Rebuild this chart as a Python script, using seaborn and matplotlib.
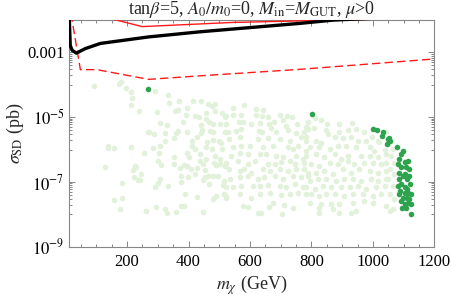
import numpy as np
import pandas as pd
import matplotlib
matplotlib.use("Agg")
import matplotlib.pyplot as plt
import seaborn as sns
from matplotlib.ticker import FixedLocator, NullFormatter, FixedFormatter

# ---------------- data ----------------
# light green points: m_chi (GeV), log10 sigma_SD (pb)
light_x = [92,174,181,197,212,216,213,239,268,138,138,157,214,254,128,225,230,219,245,222,235,243,184,184,159,176,262,
           292,334,335,368,416,442,462,477,487,296,357,366,395,392,421,434,456,486,510,518,308,329,382,442,458,466,478,503,523,
           271,287,324,359,366,394,440,445,471,481,520,322,353,411,428,459,479,499,507,284,306,411,420,458,475,510,
           303,395,402,438,458,486,503,299,353,311,352,385,395,427,436,447,453,482,490,501,518,371,409,374,398,420,452,463,479,495,
           306,300,377,447,517,292,332,468,512,523,390,428,479,490,517,523,293,322,331,360,376,384,447,262,
           582,546,618,642,523,546,571,620,640,658,696,721,737,523,564,577,604,631,661,677,707,718,753,783,
           528,555,571,628,640,669,685,723,750,775,533,568,626,658,696,729,766,783,544,571,601,642,674,723,739,756,783,
           539,566,593,631,653,683,707,750,772,523,561,593,615,658,680,701,729,745,777,533,566,582,604,642,664,696,723,750,777,
           536,566,593,626,647,680,707,739,766,788,544,571,609,631,658,696,718,745,772,523,566,604,631,664,701,729,756,783,
           577,593,661,674,712,739,626,636,705,
           788,813,832,850,889,931,789,807,848,891,918,945,972,1016,783,815,832,853,875,902,929,951,978,997,1021,
           794,826,859,886,913,945,989,1005,1038,783,815,842,875,897,918,962,989,1016,1043,799,826,859,886,918,940,972,1000,1027,1043,
           788,815,842,870,902,929,956,989,1016,1043,794,821,848,880,907,935,962,994,1016,1043,783,810,837,864,897,924,951,978,1010,1038,
           799,826,848,875,907,935,967,1000,1027,794,832,864,891,935,972,1000,826,870,891,945,929,826,
           1043,1048,1065,1059,1070,1054,1070,1048,1065,1054,1070,1043,1065,1054]
light_logsig = [-4.04,-3.97,-3.91,-4.09,-4.22,-4.41,-4.62,-4.82,-5.47,-5.88,-5.95,-5.96,-5.93,-6.09,-6.53,-6.52,-6.55,-6.63,-6.76,-6.86,-6.95,-6.95,-7.02,-7.49,-7.56,-7.83,-7.90,
           -4.19,-4.30,-4.56,-4.50,-4.51,-4.50,-4.58,-4.64,-4.58,-4.85,-4.81,-4.77,-4.71,-4.92,-4.95,-5.00,-4.86,-4.82,-4.87,-5.00,-5.18,-5.23,-5.14,-5.23,-5.05,-5.15,-5.21,-5.21,-5.21,
           -5.47,-5.51,-5.50,-5.50,-5.42,-5.47,-5.49,-5.39,-5.44,-5.47,-5.47,-5.73,-5.65,-5.74,-5.62,-5.76,-5.69,-5.73,-5.81,-5.95,-5.88,-5.88,-5.98,-5.91,-5.98,-5.98,
           -6.11,-6.11,-6.23,-6.15,-6.30,-6.19,-6.30,-6.35,-6.24,-6.48,-6.46,-6.47,-6.52,-6.57,-6.36,-6.46,-6.63,-6.40,-6.48,-6.45,-6.50,-6.58,-6.61,-6.81,-6.86,-6.76,-6.86,-6.83,-6.83,-6.81,
           -6.92,-7.02,-7.00,-6.95,-6.97,-7.17,-7.14,-7.05,-7.10,-7.17,-7.36,-7.47,-7.52,-7.43,-7.38,-7.49,-7.76,-7.85,-7.95,-7.93,-7.75,-7.74,-7.92,-7.90,
           -4.62,-4.72,-4.76,-4.77,-4.95,-4.93,-4.93,-4.93,-4.97,-5.00,-4.93,-4.95,-5.00,-5.21,-5.14,-5.16,-5.21,-5.19,-5.21,-5.14,-5.10,-5.26,-5.21,-5.29,
           -5.47,-5.42,-5.36,-5.42,-5.47,-5.34,-5.47,-5.39,-5.49,-5.47,-5.67,-5.62,-5.67,-5.64,-5.67,-5.73,-5.62,-5.73,-5.93,-5.88,-5.88,-5.93,-5.88,-5.93,-5.98,-5.88,-6.04,
           -6.19,-6.09,-6.14,-6.14,-6.14,-6.19,-6.24,-6.19,-6.30,-6.40,-6.35,-6.45,-6.35,-6.45,-6.45,-6.38,-6.35,-6.45,-6.40,-6.61,-6.66,-6.61,-6.71,-6.61,-6.66,-6.61,-6.66,-6.61,-6.61,
           -6.90,-6.86,-6.81,-6.92,-6.86,-6.81,-6.90,-6.81,-6.86,-6.81,-7.17,-7.12,-7.14,-7.12,-7.10,-7.12,-7.17,-7.07,-7.17,-7.43,-7.38,-7.49,-7.38,-7.35,-7.41,-7.38,-7.33,-7.38,
           -7.74,-7.76,-7.76,-7.64,-7.72,-7.80,-7.97,-7.95,-8.00,
           -5.14,-5.03,-5.10,-5.21,-5.21,-5.18,-5.36,-5.34,-5.38,-5.47,-5.41,-5.36,-5.47,-5.73,-5.62,-5.73,-5.81,-5.52,-5.62,-5.65,-5.62,-5.73,-5.73,-5.62,-5.78,
           -5.93,-5.93,-5.98,-5.88,-5.88,-5.93,-5.93,-6.04,-6.00,-6.19,-6.14,-6.24,-6.14,-6.30,-6.19,-6.19,-6.19,-6.24,-6.14,-6.45,-6.50,-6.40,-6.45,-6.35,-6.45,-6.40,-6.40,-6.45,-6.40,
           -6.71,-6.71,-6.66,-6.76,-6.61,-6.71,-6.61,-6.66,-6.71,-6.66,-6.97,-6.92,-6.92,-6.97,-6.92,-6.92,-6.97,-6.92,-6.97,-6.92,-7.17,-7.23,-7.12,-7.17,-7.17,-7.17,-7.12,-7.23,-7.17,-7.12,
           -7.38,-7.43,-7.38,-7.38,-7.43,-7.38,-7.38,-7.43,-7.38,-7.64,-7.69,-7.69,-7.69,-7.64,-7.59,-7.66,-7.80,-7.85,-7.95,-7.90,-7.95,-7.95,
           -5.47,-5.83,-5.98,-6.19,-6.40,-6.61,-6.76,-6.92,-7.12,-7.38,-7.54,-7.74,-7.85,-7.90]

# dark green points
dark_x = [268,802,1000,1013,1034,1030,1048,1045,
          1052,1056,1078,1097,1092,1086,1106,1115,1081,1092,1108,1119,1084,1097,1106,1117,1110,1086,1092,1121,
          1103,1110,1124,1089,1103,1113,1097,1110,1119,1092,1103,1113,1124,1095,1108,1124,1081,1084]
dark_logsig = [-4.12,-4.90,-5.36,-5.41,-5.47,-5.59,-5.67,-5.83,
               -5.65,-5.73,-5.93,-6.04,-6.14,-6.30,-6.38,-6.35,-6.45,-6.55,-6.55,-6.61,-6.71,-6.81,-6.76,-6.81,-6.90,-6.92,-7.07,-7.07,
               -7.17,-7.23,-7.38,-7.28,-7.33,-7.33,-7.49,-7.49,-7.54,-7.59,-7.69,-7.66,-7.69,-7.80,-7.80,-7.98,-7.12,-7.38]

# black limit curve
black_x = [11, 15, 21, 35, 64, 113, 269, 438, 763, 870, 980, 1200]
black_logsig = [-1.70, -2.78, -2.93, -3.02, -2.88, -2.72, -2.52, -2.36, -2.10, -2.00, -1.95, -1.90]

# red solid curve
red_x = [140, 146, 249, 546, 871, 1200]
red_logsig = [-1.85, -1.95, -2.20, -2.07, -2.00, -1.93]

# red dashed curve
redd_x = [16, 21, 48, 102, 270, 439, 763, 1186, 1200]
redd_logsig = [-1.80, -2.00, -3.53, -3.53, -3.83, -3.72, -3.52, -3.21, -3.20]

xticks = [200, 400, 600, 800, 1000, 1200]
ymajor = [-9, -7, -5, -3]
ytick_labels = [r"$10^{-9}$", r"$10^{-7}$", r"$10^{-5}$", "0.001"]

# ---------------- plotting ----------------
sns.set_style("ticks")
plt.rcParams["font.family"] = ["Liberation Serif", "DejaVu Serif"]
plt.rcParams["mathtext.fontset"] = "stix"

fig = plt.figure(figsize=(4.52, 2.96), dpi=100)
ax = fig.add_axes([0.152, 0.1666, 0.809, 0.7654])

light = pd.DataFrame({"m": light_x, "s": 10.0 ** np.array(light_logsig)})
dark = pd.DataFrame({"m": dark_x, "s": 10.0 ** np.array(dark_logsig)})
blk = pd.DataFrame({"m": black_x, "s": 10.0 ** np.array(black_logsig)})
red = pd.DataFrame({"m": red_x, "s": 10.0 ** np.array(red_logsig)})
redd = pd.DataFrame({"m": redd_x, "s": 10.0 ** np.array(redd_logsig)})

sns.scatterplot(data=light, x="m", y="s", ax=ax, color="#e2f2da", s=16, linewidth=0, zorder=2)
sns.scatterplot(data=dark, x="m", y="s", ax=ax, color="#2da34e", s=16, linewidth=0, zorder=3)
sns.lineplot(data=redd, x="m", y="s", ax=ax, color="#ff1a1a", lw=1.0, sort=False, estimator=None,
             zorder=4).lines[-1].set_dashes([6, 3])
sns.lineplot(data=red, x="m", y="s", ax=ax, color="#ff1a1a", lw=1.0, sort=False, estimator=None, zorder=4)
sns.lineplot(data=blk, x="m", y="s", ax=ax, color="black", lw=2.4, sort=False, estimator=None, zorder=5)

ax.set_yscale("log")
ax.set_xlim(10, 1200)
ax.set_ylim(1e-9, 1e-2)

# x ticks
ax.xaxis.set_major_locator(FixedLocator(xticks))
ax.xaxis.set_minor_locator(FixedLocator([v for v in range(50, 1200, 50) if v % 200 != 0]))
ax.set_xticklabels([str(v) for v in xticks])

# y ticks (Mathematica style)
ax.yaxis.set_major_locator(FixedLocator([10.0 ** e for e in ymajor]))
ax.yaxis.set_major_formatter(FixedFormatter(ytick_labels))
minors = []
for e in ymajor:
    minors.append(10.0 ** (e + 1))
    for k in range(2, 10):
        minors.append(k * 10.0 ** (e - 1))
ax.yaxis.set_minor_locator(FixedLocator([m for m in minors if 1e-9 < m <= 1e-2]))
ax.yaxis.set_minor_formatter(NullFormatter())

ax.tick_params(which="both", direction="in", top=True, right=True, color="#888888", width=0.7,
               labelsize=12, labelcolor="black")
ax.tick_params(axis="x", pad=5)
ax.tick_params(axis="y", pad=3)
ax.tick_params(which="major", length=4)
ax.tick_params(which="minor", length=2)

for sp in ax.spines.values():
    sp.set_color("#888888")
    sp.set_linewidth(0.8)
    sp.set_visible(True)

ax.set_xlabel(r"$m_\chi$ (GeV)", fontsize=13, labelpad=3)
ax.set_ylabel(r"$\sigma_{\rm SD}$ (pb)", fontsize=13, labelpad=1)
ax.set_title(r"tan$\beta$=5, $A_0/m_0$=0, $M_{\rm in}$=$M_{\rm GUT}$, $\mu$>0", fontsize=13, pad=0.5)

fig.savefig("out.png", dpi=100)
